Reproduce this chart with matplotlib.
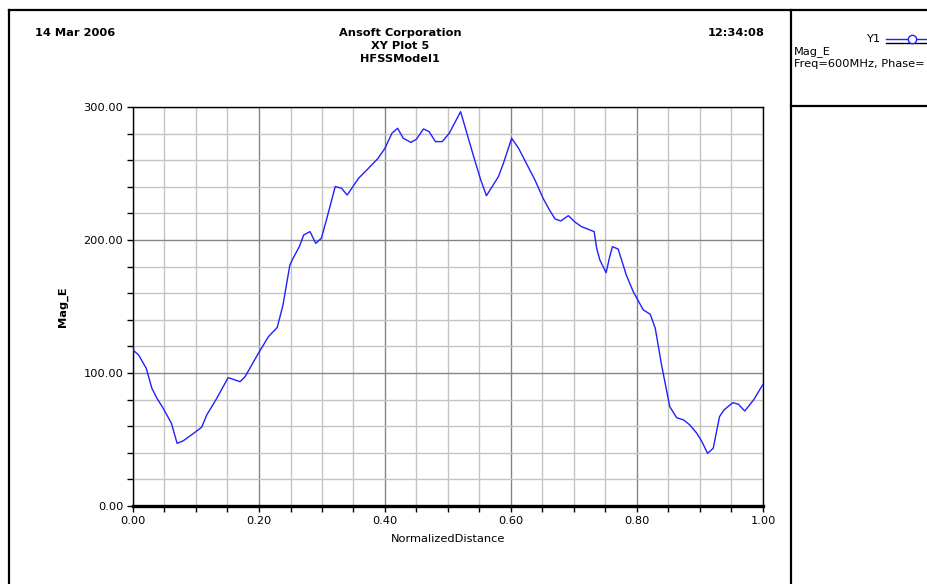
import matplotlib
matplotlib.use("Agg")
import matplotlib.pyplot as plt
from matplotlib.lines import Line2D
from matplotlib.ticker import MultipleLocator, FormatStrFormatter

# curve
dist = [0.000, 0.009, 0.021, 0.030, 0.038, 0.048, 0.061, 0.070, 0.080, 0.096,
        0.109, 0.117, 0.133, 0.151, 0.170, 0.178, 0.199, 0.215, 0.229, 0.238,
        0.249, 0.254, 0.264, 0.271, 0.281, 0.290, 0.299, 0.307, 0.321, 0.331,
        0.340, 0.358, 0.371, 0.389, 0.400, 0.411, 0.420, 0.429, 0.441, 0.450,
        0.461, 0.470, 0.480, 0.491, 0.502, 0.520, 0.540, 0.552, 0.561, 0.580,
        0.588, 0.601, 0.612, 0.638, 0.651, 0.661, 0.670, 0.679, 0.691, 0.702,
        0.712, 0.723, 0.732, 0.736, 0.741, 0.751, 0.756, 0.761, 0.770, 0.783,
        0.794, 0.810, 0.821, 0.829, 0.839, 0.852, 0.863, 0.874, 0.884, 0.895,
        0.903, 0.912, 0.921, 0.931, 0.938, 0.952, 0.961, 0.971, 0.985, 1.000]
mag_e = [117.3, 113.5, 103.5, 88.5, 81.0, 73.4, 62.2, 47.1, 49.1, 54.6,
         59.2, 68.4, 81.0, 96.5, 93.5, 97.3, 114.8, 127.3, 134.3, 151.0,
         181.2, 186.2, 195.0, 203.8, 206.3, 197.5, 201.3, 215.0, 240.2, 238.9,
         233.8, 246.4, 252.6, 261.4, 269.0, 280.3, 284.0, 276.5, 273.4, 275.8,
         283.5, 281.5, 274.0, 274.0, 280.3, 296.5, 263.9, 245.1, 233.3, 247.6,
         257.7, 276.5, 269.0, 245.1, 231.3, 222.6, 215.8, 214.3, 218.3, 213.3,
         210.0, 208.0, 206.3, 193.8, 185.0, 175.4, 186.2, 195.0, 193.2, 173.7,
         161.2, 147.4, 144.2, 133.6, 106.0, 74.7, 66.4, 64.7, 60.9, 54.6,
         48.4, 39.6, 43.4, 67.2, 72.2, 77.7, 76.5, 71.4, 79.7, 91.5]

header_left = "14 Mar 2006"
header_mid = ["Ansoft Corporation", "XY Plot 5", "HFSSModel1"]
header_right = "12:34:08"
legend_lines = ["Mag_E", "Freq=600MHz, Phase="]

plt.rcParams['font.family'] = ['DejaVu Sans']
W, H = 928, 584
fig = plt.figure(figsize=(W / 100, H / 100), dpi=100)

def fx(px):
    return px / W

def fy(py):
    return 1 - py / H

# page frame
fig.add_artist(Line2D([fx(9.5), fx(9.5)], [fy(9.5), 0], color='black', lw=1.6))
fig.add_artist(Line2D([fx(9.5), 1], [fy(9.5), fy(9.5)], color='black', lw=1.6))
fig.add_artist(Line2D([fx(791), fx(791)], [fy(9.5), 0], color='black', lw=1.6))
fig.add_artist(Line2D([fx(791), 1], [fy(106), fy(106)], color='black', lw=1.6))

# header
fig.text(fx(35), fy(33), header_left, fontsize=8.2, fontweight='bold', va='center', ha='left')
for i, t in enumerate(header_mid):
    fig.text(fx(400), fy(33 + 13 * i), t, fontsize=8.2, fontweight='bold', va='center', ha='center')
fig.text(fx(765), fy(33), header_right, fontsize=8.2, fontweight='bold', va='center', ha='right')

# legend panel
fig.text(fx(880), fy(39), "Y1", fontsize=8.2, va='center', ha='right')
fig.add_artist(Line2D([fx(886), 1], [fy(43), fy(43)], color='black', lw=1.0))
fig.add_artist(Line2D([fx(886), 1], [fy(39), fy(39)], color='#2020ff', lw=1.0))
fig.add_artist(Line2D([fx(912)], [fy(39)], color='#2020ff', marker='o', ms=6,
                      mfc='white', mec='#2020ff', mew=1.0))
for i, t in enumerate(legend_lines):
    fig.text(fx(794), fy(52 + 12 * i), t, fontsize=8.2, va='center', ha='left')

# main plot
ax = fig.add_axes([fx(133), fy(506), (763 - 133) / W, (506 - 107) / H])
ax.plot(dist, mag_e, color='#2020ff', lw=1.0, zorder=3)
ax.set_xlim(0, 1)
ax.set_ylim(0, 300)

ax.xaxis.set_major_locator(MultipleLocator(0.2))
ax.xaxis.set_minor_locator(MultipleLocator(0.05))
ax.yaxis.set_major_locator(MultipleLocator(100))
ax.yaxis.set_minor_locator(MultipleLocator(20))
ax.xaxis.set_major_formatter(FormatStrFormatter('%.2f'))
ax.yaxis.set_major_formatter(FormatStrFormatter('%.2f'))

ax.grid(which='minor', color='#c4c4c4', lw=1.0)
ax.grid(which='major', color='#858585', lw=1.0)
ax.set_axisbelow(True)

ax.tick_params(which='both', direction='out', length=4, width=1, color='black',
               labelsize=8.2, pad=3)
ax.tick_params(axis='x', which='both', top=False)
ax.tick_params(axis='y', which='both', right=False)

for s in ['left', 'top', 'right']:
    ax.spines[s].set_color('black')
    ax.spines[s].set_linewidth(1.0)
ax.spines['bottom'].set_linewidth(2.4)
ax.spines['bottom'].set_color('black')

ax.set_xlabel("NormalizedDistance", fontsize=8.2, labelpad=6)
ax.set_ylabel("Mag_E", fontsize=8.2, fontweight='bold', labelpad=11)

fig.savefig("out.png", dpi=100)
